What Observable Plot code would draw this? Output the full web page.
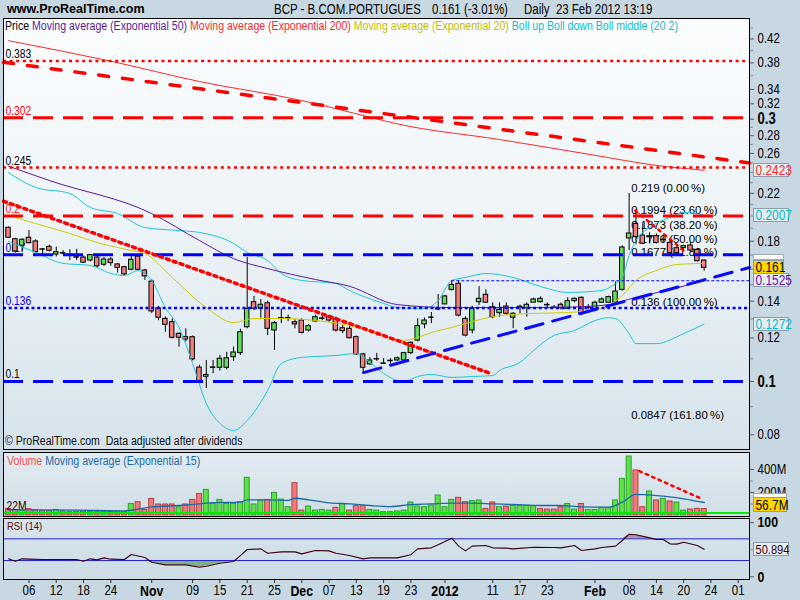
<!DOCTYPE html>
<html>
<head>
<meta charset="utf-8">
<script src="https://cdn.jsdelivr.net/npm/d3@7"></script>
<script src="https://cdn.jsdelivr.net/npm/@observablehq/plot@0.6"></script>
<style>
  html,body{margin:0;padding:0;background:#c8d8e2;}
  #root{position:relative;width:800px;height:600px;overflow:hidden;background:#c8d8e2;
    font-family:"Liberation Sans",Arial,sans-serif;color:#000;}
  .a{position:absolute;white-space:pre;line-height:1;}
  .n{transform:scaleX(0.82);transform-origin:0 0;}
  .w{transform:scaleX(0.845);transform-origin:0 0;}
</style>
</head>
<body>
<div id="root"></div>
<script>
// ------------------------------------------------------------------ data
const tickDays   = [3,7,11,15,21,27,31,35,39,43,47,51,55,59,64,71,75,79,86,91,95,99,103,107];
const tickLabels = ["06","12","18","24","Nov","09","15","21","25","Dec","07","13","19","23","2012","11","17","23","Feb","08","14","20","24","01"];
const monthLabels = ["Nov","Dec","2012","Feb"];

const open  = [.1904,.1815,.1766,.1826,.1798,.1742,.1758,.1702,.1714,.1702,.1685,.1681,.1660,.1681,.1631,.1667,.1633,.1614,.1597,.1688,
               .1592,.1520,.1359,.1300,.1282,.1221,.1204,.1204,.1060,.1020,.1062,.1059,.1059,.1107,.1126,.1255,.1394,.1356,.1388,.1238,
               .1306,.1306,.1282,.1291,.1238,.1286,.1304,.1309,.1300,.1250,.1247,.1204,.1120,.1074,.1100,.1080,.1092,.1092,.1092,.1126,
               .1187,.1270,.1309,.1356,.1381,.1468,.1506,.1300,.1238,.1394,.1438,.1365,.1331,.1369,.1306,.1369,.1359,.1391,.1394,.1380,
               .1365,.1379,.1356,.1400,.1420,.1365,.1356,.1391,.1391,.1391,.1468,.1821,.1936,.1843,.1829,.1838,.1813,.1788,.1748,.1749,
               .1768,.1736,.1660];
const high  = [.1910,.1822,.1820,.1882,.1810,.1745,.1770,.1756,.1730,.1737,.1740,.1690,.1700,.1690,.1680,.1680,.1640,.1620,.1702,.1702,
               .1600,.1530,.1370,.1310,.1300,.1225,.1247,.1210,.1070,.1092,.1092,.1115,.1130,.1155,.1245,.1681,.1428,.1410,.1400,.1285,
               .1356,.1320,.1295,.1300,.1270,.1320,.1320,.1320,.1310,.1265,.1260,.1210,.1125,.1105,.1125,.1100,.1100,.1108,.1130,.1180,
               .1300,.1305,.1335,.1440,.1435,.1527,.1527,.1310,.1370,.1488,.1468,.1390,.1390,.1390,.1335,.1378,.1390,.1418,.1425,.1390,
               .1375,.1390,.1420,.1420,.1425,.1380,.1400,.1420,.1430,.1517,.1765,.2198,.2047,.1936,.1865,.1855,.1835,.1805,.1760,.1770,
               .1791,.1745,.1665];
const low   = [.1820,.1712,.1724,.1780,.1715,.1695,.1720,.1685,.1700,.1660,.1660,.1640,.1650,.1610,.1620,.1620,.1575,.1555,.1590,.1590,
               .1527,.1330,.1290,.1229,.1195,.1155,.1180,.1090,.0995,.0971,.1033,.1045,.1050,.1088,.1115,.1247,.1345,.1304,.1212,.1139,
               .1274,.1285,.1247,.1220,.1230,.1280,.1290,.1280,.1230,.1222,.1195,.1115,.1040,.1070,.1088,.1075,.1075,.1088,.1085,.1120,
               .1180,.1247,.1274,.1346,.1380,.1460,.1310,.1205,.1221,.1375,.1390,.1300,.1309,.1320,.1247,.1328,.1309,.1390,.1390,.1356,
               .1356,.1350,.1356,.1390,.1320,.1350,.1350,.1390,.1390,.1390,.1460,.1731,.1775,.1775,.1780,.1780,.1790,.1700,.1700,.1740,
               .1720,.1650,.1587];
const close = [.1826,.1724,.1811,.1785,.1719,.1742,.1729,.1719,.1714,.1702,.1685,.1645,.1698,.1620,.1667,.1642,.1610,.1566,.1665,.1597,
               .1553,.1341,.1306,.1268,.1201,.1201,.1192,.1097,.1000,.1028,.1062,.1100,.1102,.1129,.1229,.1356,.1356,.1379,.1247,.1277,
               .1306,.1306,.1270,.1226,.1261,.1309,.1304,.1291,.1238,.1235,.1199,.1120,.1059,.1092,.1100,.1080,.1092,.1102,.1126,.1176,
               .1261,.1291,.1309,.1356,.1428,.1499,.1318,.1212,.1356,.1414,.1391,.1309,.1350,.1328,.1328,.1369,.1379,.1410,.1414,.1380,
               .1365,.1359,.1400,.1414,.1328,.1365,.1391,.1410,.1424,.1458,.1753,.1859,.1831,.1781,.1838,.1786,.1813,.1712,.1712,.1763,
               .1731,.1655,.1610];

// volume in millions, and bar colour (g = up, r = down)
const volume = [58,49,43,55,43,38,38,49,35,29,32,35,30,33,32,30,35,32,
                101,116,49,145,96,96,96,72,96,136,188,223,
                101,136,101,101,116,328,96,131,136,197,
                139,72,281,43,78,43,49,43,67,101,
                43,81,81,49,43,29,29,35,43,113,
                78,72,87,174,72,136,154,116,125,131,
                58,113,72,78,84,84,84,81,58,52,
                52,72,101,52,101,49,49,64,64,131,
                319,513,392,72,209,131,145,122,113,43,
                52,58,56.7];
const volDir = "rrgrrrrgrrrrgrgrrr" + "grrrrrrgrrrg" + "ggggggggrg" + "ggrrggggrg" + "rrrggggggg" +
               "ggggggrrgg" + "rrgrggggrr" + "rrggrggggg" + "ggrrgrgrgg" + "rrr";
const volEmaDay = [0,10,17,19,21,25,28,30,34,35,38,41,42,44,47,50,53,56,59,62,65,68,71,74,78,81,84,88,90,92,94,96,99,102];
const volEmaVal = [49,47,40,55,75,87,101,112,116,136,136,131,150,136,110,101,87,78,95,101,107,107,101,96,87,87,75,72,116,183,180,168,145,113];
const volTrendDay = [92.5, 101.3];
const volTrendVal = [386, 154];
const volLevel = 22;
const volLast = 56.7;

// moving averages & bollinger bands
const ema200Day = [0,15,28,43,53,57,72,87,94,102];
const ema200Val = [0.417,0.3826,0.3514,0.3245,0.3026,0.2943,0.2756,0.2567,0.2482,0.2423];
const ema50Day = [0,6,21,28,33,38,45,50,57,65,72,79,87,92,97,102];
const ema50Val = [0.2465,0.2321,0.2021,0.1805,0.1673,0.1605,0.1533,0.1490,0.1380,0.1363,0.1363,0.1363,0.1375,0.1422,0.1470,0.1525];
const ema20Day = [0,4,9,13,18,20,24,29,33,36,40,45,50,55,57,60,62,65,67,72,77,82,87,90,92,95,98,102];
const ema20Val = [0.2004,0.1938,0.1859,0.1790,0.1731,0.1710,0.1546,0.1363,0.1280,0.1302,0.1302,0.1291,0.1264,0.1213,0.1187,0.1202,0.1228,0.1254,0.1275,0.1318,0.1330,0.1335,0.1358,0.1434,0.1527,0.1592,0.1633,0.1640];
const bollUpDay = [0,4,9,12,16,20,25,28,33,35,38,40,43,48,50,55,57,61,63,65,67,70,74,78,82,87,89,90,91,92,94,97,99,102];
const bollUpVal = [0.240,0.2254,0.2198,0.2073,0.2021,0.1906,0.1882,0.1867,0.1783,0.1717,0.1660,0.1572,0.1527,0.1508,0.1464,0.1387,0.1363,0.1358,0.1404,0.1527,0.1546,0.1572,0.1546,0.1489,0.1452,0.1464,0.1508,0.1546,0.1695,0.1805,0.1906,0.1988,0.2030,0.2007];
const bollDnDay = [0,4,8,12,15,17,19,21,23,25,27,29,31,33,35,38,40,43,48,51,53,55,58,60,62,65,68,71,72,75,77,80,83,86,88,89,91,92,95,99,102];
const bollDnVal = [0.1798,0.1717,0.1640,0.1626,0.1572,0.1559,0.1592,0.1527,0.1363,0.1254,0.1078,0.0912,0.0839,0.0814,0.0849,0.0963,0.1078,0.1106,0.1115,0.1124,0.1083,0.1034,0.1000,0.1021,0.1030,0.1017,0.1021,0.1025,0.1047,0.1083,0.1139,0.1213,0.1238,0.1291,0.1306,0.1302,0.1222,0.1172,0.1172,0.1222,0.1272];

// horizontal levels
const levelVals = [0.383, 0.302, 0.245, 0.2, 0.17, 0.136, 0.1];
const levelText = ["0.383","0.302","0.245","0.2","0.17","0.136","0.1"];

// trend lines (day index, price)
const tlRedDashDay = [-0.73, 108.65], tlRedDashVal = [0.381, 0.2498];
const tlRedDotDay  = [-0.73, 70.7],   tlRedDotVal  = [0.2128, 0.1034];
const tlBlueDay    = [52.05, 108.65], tlBlueVal    = [0.1038, 0.1612];
const tlFebDay     = [91.9, 99],      tlFebVal     = [0.2047, 0.1731];
const rayDay = 65, rayVal = 0.1525;

// fibonacci retracement
const fibDay = 91;
const fibVal  = [0.219, 0.1994, 0.1873, 0.177, 0.1677, 0.136, 0.0847];
const fibText = ["0.219 (0.00\u2009%)","0.1994 (23.60\u2009%)","0.1873 (38.20\u2009%)","0.1770 (50.00\u2009%)","0.1677 (61.80\u2009%)","0.136 (100.00\u2009%)","0.0847 (161.80\u2009%)"];

// RSI
const rsiDay = [0,1,2,3,5,6,10,11,12,13,14,15,17,18,20,21,23,26,28,29,31,33,34,35,37,38,40,42,43,45,47,48,50,52,53,57,59,60,62,63,65,66,67,68,70,71,73,74,77,80,81,83,84,86,87,89,90,91,92,94,95,96,97,98,99,101,102];
const rsiVal = [33.1,28.8,33.1,32.5,31.8,31.8,31.8,28.8,33.1,31.2,34.9,32.5,31.8,41.1,35.5,26.9,22.0,22.0,17.7,19.5,25.1,28.2,39.2,50.3,51.5,43.5,46.0,46.0,42.3,48.5,47.8,43.5,39.2,33.1,34.9,34.9,40.8,51.5,53.4,58.9,71.2,56.5,47.8,56.5,57.7,53.4,52.8,51.5,54.6,53.9,53.4,57.7,48.5,51.5,53.9,56.5,66.9,78.6,77.4,71.8,68.8,68.8,60.8,60.2,63.8,57.7,50.9];
const rsiLast = "50.894";
const rsiBands = [30, 70];

// right-side value boxes
const boxVals = [0.2423, 0.2007, 0.161, 0.1525, 0.1272];
const boxText = ["0.2423","0.2007","0.161","0.1525","0.1272"];

// axis ticks
const priceTicks = [0.08,0.12,0.14,0.18,0.22,0.26,0.28,0.32,0.34,0.38,0.42];
const priceBoldTicks = [0.1, 0.3];
const priceMinor = [0.09,0.11,0.13,0.15,0.16,0.17,0.19,0.2,0.21,0.23,0.24,0.25,0.27,0.29,0.36,0.4,0.44];

// ------------------------------------------------------------------ layout
const FONT = '"Liberation Sans",Arial,sans-serif';
const SQ = 0.82;          // narrow look
const FIB_SIZE = 11.4;    // fib labels keep normal width
const root = document.getElementById("root");
function div(left, top, html, css = "", cls = " n") {
  const d = document.createElement("div");
  d.className = "a" + cls;
  d.style.cssText += `left:${left}px;top:${top}px;${css}`;
  d.innerHTML = html;
  root.appendChild(d);
  return d;
}
function box(left, top, w, h, bg) {
  const d = document.createElement("div");
  d.style.cssText = `position:absolute;left:${left}px;top:${top}px;width:${w}px;height:${h}px;background:${bg};`;
  root.appendChild(d);
}
function squeeze(svg) {
  svg.querySelectorAll("text").forEach(t => {
    if (parseFloat(getComputedStyle(t).fontSize) === FIB_SIZE) return;
    const w = t.getComputedTextLength();
    if (w > 0) {
      t.setAttribute("textLength", (w * SQ).toFixed(2));
      t.setAttribute("lengthAdjust", "spacingAndGlyphs");
    }
  });
}
function place(svg, top) {
  svg.style.position = "absolute";
  svg.style.left = "0px";
  svg.style.top = top + "px";
  root.appendChild(svg);
  squeeze(svg);
}

box(3, 18, 746, 431, "linear-gradient(#fbfdfe 0%, #eef4f7 45%, #d6e3eb 100%)");
box(3, 452, 746, 64, "linear-gradient(#e3ecf1, #d0dee7)");
box(3, 518, 746, 61, "linear-gradient(#d7e4eb, #cddce5)");

const xDomain = [-0.733, 108.65];
const ser = (days, vals) => days.map((d, k) => ({d, v: vals[k]}));
const candles = close.map((c, i) => ({i, o: open[i], h: high[i], l: low[i], c}));
const upC = candles.filter(d => d.c > d.o), dnC = candles.filter(d => d.c < d.o), flatC = candles.filter(d => d.c === d.o);
const baseStyle = {background: "none", overflow: "visible", fontFamily: FONT, fontSize: "13px"};

const levelStyle = [
  {stroke: "#ff0000", dash: "3,3.6", w: 2.5, label: "#000000"},
  {stroke: "#ff0000", dash: "20,10", w: 3,   label: "#ff0000"},
  {stroke: "#ff0000", dash: "3,3.6", w: 2.5, label: "#000000"},
  {stroke: "#ff0000", dash: "20,10", w: 3,   label: "#ff2000"},
  {stroke: "#0000ff", dash: "20,10", w: 3,   label: "#0000ff"},
  {stroke: "#0000ff", dash: "3,2.7", w: 2.5, label: "#0000ff"},
  {stroke: "#0000ff", dash: "20,10", w: 3,   label: "#000000"}
];
const boxStyle = [
  {color: "#ff2a2a", bg: "#e6edf1", w: 35},
  {color: "#00bcd0", bg: "#e6edf1", w: 35},
  {color: "#000000", bg: "#ffd700", w: 30, strip: true},
  {color: "#6a10a8", bg: "#e6edf1", w: 35},
  {color: "#00bcd0", bg: "#e6edf1", w: 35}
];

const priceBoxes = (index, scales, values, dims) => {
  const g = d3.create("svg:g");
  const x0 = dims.width - dims.marginRight + 4.5;
  boxVals.forEach((v, k) => {
    const st = boxStyle[k];
    const y = Math.round(scales.y(v));
    if (st.strip) g.append("rect").attr("x", x0).attr("y", y - 12.5).attr("width", st.w).attr("height", 5).attr("fill", "#fff").attr("stroke", "#a0aab2");
    g.append("rect").attr("x", x0).attr("y", y - 6.5).attr("width", st.w).attr("height", 13).attr("fill", st.bg).attr("stroke", "#8e9ea8");
    g.append("text").attr("x", x0 + 2).attr("y", y).attr("dy", "0.36em").attr("fill", st.color)
      .attr("font-size", 14.5).attr("text-anchor", "start").text(boxText[k]);
  });
  return g.node();
};

const lineOpts = (stroke, w = 1) => ({x: "d", y: "v", stroke, strokeWidth: w, curve: "monotone-x"});

const pricePlot = Plot.plot({
  width: 800, height: 431,
  marginLeft: 3, marginRight: 51, marginTop: 0, marginBottom: 0,
  x: {domain: xDomain, axis: null, label: null},
  y: {type: "log", domain: [0.0752, 0.4576], axis: null, label: null},
  style: baseStyle,
  marks: [
    // fibonacci labels (under the candles)
    Plot.text(fibVal, {x: () => fibDay, y: d => d, text: (d, k) => fibText[k], textAnchor: "start", dx: 2, dy: -6,
      fontSize: FIB_SIZE, fill: "#000"}),
    // level labels
    ...levelVals.map((v, k) => Plot.text([v], {y: d => d, text: () => levelText[k], frameAnchor: "left", textAnchor: "start",
      dx: 2, dy: -7, fontSize: 12.5, fill: levelStyle[k].label})),
    // candles
    Plot.ruleX(candles, {x: "i", y1: "l", y2: "h", stroke: "#000", strokeWidth: 1}),
    Plot.rect(upC, {x1: d => d.i - 0.33, x2: d => d.i + 0.33, y1: "o", y2: "c", fill: "#66dd5e", stroke: "#000", strokeWidth: 1}),
    Plot.rect(dnC, {x1: d => d.i - 0.33, x2: d => d.i + 0.33, y1: "o", y2: "c", fill: "#f08080", stroke: "#000", strokeWidth: 1}),
    Plot.ruleY(flatC, {y: "c", x1: d => d.i - 0.4, x2: d => d.i + 0.4, stroke: "#000", strokeWidth: 1.5}),
    // indicators
    Plot.line(ser(bollDnDay, bollDnVal), lineOpts("#1ec6d6")),
    Plot.line(ser(bollUpDay, bollUpVal), lineOpts("#1ec6d6")),
    Plot.line(ser(ema20Day, ema20Val), lineOpts("#d2c800")),
    Plot.line(ser(ema50Day, ema50Val), lineOpts("#5a1a9e")),
    Plot.line(ser(ema200Day, ema200Val), lineOpts("#ff2a2a")),
    // horizontal levels
    ...levelVals.map((v, k) => Plot.ruleY([v], {stroke: levelStyle[k].stroke, strokeWidth: levelStyle[k].w, strokeDasharray: levelStyle[k].dash})),
    Plot.ruleY([rayVal], {x1: rayDay, x2: xDomain[1], stroke: "#0000ff", strokeWidth: 1, strokeDasharray: "3,2"}),
    // trend lines
    Plot.line(ser(tlRedDashDay, tlRedDashVal), {x: "d", y: "v", stroke: "#ff0000", strokeWidth: 3.5, strokeDasharray: "10,14"}),
    Plot.line(ser(tlRedDotDay, tlRedDotVal), {x: "d", y: "v", stroke: "#ff0000", strokeWidth: 3.5, strokeDasharray: "3,4.2"}),
    Plot.line(ser(tlBlueDay, tlBlueVal), {x: "d", y: "v", stroke: "#0a0aff", strokeWidth: 3, strokeDasharray: "18,10"}),
    Plot.line(ser(tlFebDay, tlFebVal), {x: "d", y: "v", stroke: "#ff0000", strokeWidth: 2.5, strokeDasharray: "2.5,5"}),
    // axis
    Plot.axisY({anchor: "right", label: null, ticks: priceMinor, tickFormat: () => "", tickSize: 3, stroke: "#7a8a94"}),
    Plot.axisY({anchor: "right", label: null, ticks: priceTicks, tickFormat: d => String(d), tickSize: 4, tickPadding: 4, fontSize: 14, stroke: "#556"}),
    Plot.axisY({anchor: "right", label: null, ticks: priceBoldTicks, tickFormat: d => String(d), tickSize: 4, tickPadding: 4, fontSize: 16, fontWeight: "bold", stroke: "#556"}),
    Plot.frame({stroke: "#000"}),
    priceBoxes
  ]
});
place(pricePlot, 18);

// ---------------- volume
const vols = volume.map((v, i) => ({i, v, dir: volDir[i]}));
const volBox = (index, scales, values, dims) => {
  const g = d3.create("svg:g");
  const x0 = dims.width - dims.marginRight + 4.5;
  const y = Math.round(scales.y(volLast)) - 3;
  g.append("rect").attr("x", x0).attr("y", y - 11.5).attr("width", 33).attr("height", 4).attr("fill", "#fff").attr("stroke", "#a0aab2");
  g.append("rect").attr("x", x0).attr("y", y - 7.5).attr("width", 33).attr("height", 14).attr("fill", "#ffd700").attr("stroke", "#8e9ea8");
  g.append("text").attr("x", x0 + 2).attr("y", y).attr("dy", "0.36em").attr("fill", "#000").attr("font-size", 14.5).attr("text-anchor", "start").text(volLast + "M");
  return g.node();
};
const volPlot = Plot.plot({
  width: 800, height: 64,
  marginLeft: 3, marginRight: 51, marginTop: 0, marginBottom: 0,
  x: {domain: xDomain, axis: null, label: null},
  y: {domain: [-8.7, 547.8], axis: null, label: null},
  style: baseStyle,
  marks: [
    Plot.rectY(vols.filter(d => d.dir === "g"), {x1: d => d.i - 0.37, x2: d => d.i + 0.37, y1: 0, y2: "v", fill: "#5fe04a", stroke: "#239a23", strokeWidth: 0.9}),
    Plot.rectY(vols.filter(d => d.dir === "r"), {x1: d => d.i - 0.37, x2: d => d.i + 0.37, y1: 0, y2: "v", fill: "#f07a7a", stroke: "#b03838", strokeWidth: 0.9}),
    Plot.ruleY([volLevel], {stroke: "#00ee00", strokeWidth: 2}),
    Plot.text([volLevel], {y: d => d, text: d => d + "M", frameAnchor: "left", textAnchor: "start", dx: 3, dy: -7, fontSize: 12.5}),
    Plot.line(ser(volEmaDay, volEmaVal), {x: "d", y: "v", stroke: "#1a6aa8", strokeWidth: 1.3, curve: "monotone-x"}),
    Plot.line(ser(volTrendDay, volTrendVal), {x: "d", y: "v", stroke: "#ff0000", strokeWidth: 2.5, strokeDasharray: "2.5,4.5"}),
    Plot.axisY({anchor: "right", label: null, ticks: [100, 300], tickFormat: () => "", tickSize: 3, stroke: "#7a8a94"}),
    Plot.axisY({anchor: "right", label: null, ticks: [200, 400], tickFormat: d => d + "M", tickSize: 4, tickPadding: 4, fontSize: 14, stroke: "#556"}),
    Plot.frame({stroke: "#000"}),
    volBox
  ]
});
place(volPlot, 452);

// ---------------- RSI + date axis
const rsi = ser(rsiDay, rsiVal);
const labelOf = new Map(tickDays.map((d, k) => [d, tickLabels[k]]));
const normalDays = tickDays.filter((d, k) => !monthLabels.includes(tickLabels[k]));
const monthDays = tickDays.filter((d, k) => monthLabels.includes(tickLabels[k]));
const rsiBox = (index, scales, values, dims) => {
  const g = d3.create("svg:g");
  const x0 = dims.width - dims.marginRight + 4.5;
  const y = Math.round(scales.y(+rsiLast));
  g.append("rect").attr("x", x0).attr("y", y - 6.5).attr("width", 35).attr("height", 13).attr("fill", "#e6edf1").attr("stroke", "#8e9ea8");
  g.append("text").attr("x", x0 + 2).attr("y", y).attr("dy", "0.36em").attr("fill", "#3a0010").attr("font-size", 13.5).attr("text-anchor", "start").text(rsiLast);
  return g.node();
};
const rsiPlot = Plot.plot({
  width: 800, height: 82,
  marginLeft: 3, marginRight: 51, marginTop: 0, marginBottom: 21,
  x: {domain: xDomain, axis: null, label: null},
  y: {domain: [-4.98, 107.5], axis: null, label: null},
  style: baseStyle,
  marks: [
    Plot.areaY(rsi, {x: "d", y1: rsiBands[0], y2: d => Math.min(d.v, rsiBands[0]), fill: "#7fae86"}),
    Plot.areaY(rsi, {x: "d", y1: rsiBands[1], y2: d => Math.max(d.v, rsiBands[1]), fill: "#b0959e"}),
    Plot.ruleY(rsiBands, {stroke: "#2424d0", strokeWidth: 1}),
    Plot.line(rsi, {x: "d", y: "v", stroke: "#3a0010", strokeWidth: 1.1}),
    Plot.axisY({anchor: "right", label: null, ticks: [50], tickFormat: () => "", tickSize: 3, stroke: "#7a8a94"}),
    Plot.axisY({anchor: "right", label: null, ticks: [0, 100], tickFormat: d => String(d), tickSize: 4, tickPadding: 4, fontSize: 15, fontWeight: "bold", stroke: "#556"}),
    Plot.axisX({anchor: "bottom", label: null, ticks: normalDays, tickFormat: d => labelOf.get(d), tickSize: 4, tickPadding: 2, fontSize: 14, stroke: "#333"}),
    Plot.axisX({anchor: "bottom", label: null, ticks: monthDays, tickFormat: d => labelOf.get(d), tickSize: 4, tickPadding: 2, fontSize: 15, fontWeight: "bold", stroke: "#333"}),
    Plot.frame({stroke: "#000"}),
    rsiBox
  ]
});
place(rsiPlot, 518);

// ---------------- texts
div(7, 3, "www.ProRealTime.com", "font-weight:bold;font-size:12.5px;", "");
div(274, 2, "BCP - B.COM.PORTUGUES", "font-size:14px;");
div(432, 2, "0.161 (-3.01%)", "font-size:14px;");
div(524, 2, "Daily  23 Feb 2012 13:19", "font-size:14px;");

const legendParts = [["Price", "#000"], ["Moving average (Exponential 50)", "#5a1a9e"], ["Moving average (Exponential 200)", "#ff2a2a"],
                     ["Moving average (Exponential 20)", "#c4bc00"], ["Boll up Boll down Boll middle (20 2)", "#10bccc"]];
div(5, 20, legendParts.map(([t, c]) => `<span style="color:${c}">${t}</span>`).join(" "), "font-size:12.5px;", " w");
div(5, 435, "© ProRealTime.com  Data adjusted after dividends", "font-size:12.5px;color:#111;", " w");
div(7, 455, `<span style="color:#f05050">Volume</span> <span style="color:#1a6aa8">Moving average (Exponential 15)</span>`, "font-size:12.5px;", " w");
div(7, 521, "RSI (14)", "font-size:11.5px;color:#5a0a0a;");
</script>
</body>
</html>
